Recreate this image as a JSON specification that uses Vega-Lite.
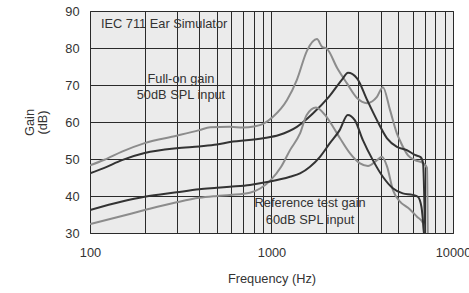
{
  "$schema": "https://vega.github.io/schema/vega-lite/v6.json",
  "autosize": "none",
  "width": 363,
  "height": 222,
  "padding": {"left": 90, "top": 11, "right": 16, "bottom": 60},
  "background": "white",
  "config": {
    "font": "Liberation Sans",
    "view": {"fill": "#ebebeb", "stroke": "#333333", "strokeWidth": 1},
    "axis": {
      "grid": true,
      "gridColor": "#2a2a2a",
      "gridOpacity": 1,
      "gridWidth": 1,
      "domain": false,
      "ticks": false,
      "labelFont": "Liberation Sans",
      "labelFontSize": 12.8,
      "labelColor": "#333333",
      "labelOverlap": false,
      "titleFont": "Liberation Sans",
      "titleFontSize": 12.8,
      "titleFontWeight": "normal",
      "titleColor": "#333333"
    }
  },
  "datasets": {
    "curves": [
      {"series": "full_light", "freq": 100, "gain": 48.3},
      {"series": "full_light", "freq": 120, "gain": 49.8},
      {"series": "full_light", "freq": 150, "gain": 52.0},
      {"series": "full_light", "freq": 200, "gain": 54.3},
      {"series": "full_light", "freq": 300, "gain": 56.3},
      {"series": "full_light", "freq": 400, "gain": 57.8},
      {"series": "full_light", "freq": 460, "gain": 58.6},
      {"series": "full_light", "freq": 590, "gain": 58.7},
      {"series": "full_light", "freq": 700, "gain": 58.5},
      {"series": "full_light", "freq": 800, "gain": 58.8},
      {"series": "full_light", "freq": 900, "gain": 59.5},
      {"series": "full_light", "freq": 1020, "gain": 61.4},
      {"series": "full_light", "freq": 1220, "gain": 66.0},
      {"series": "full_light", "freq": 1380, "gain": 71.4},
      {"series": "full_light", "freq": 1570, "gain": 79.3},
      {"series": "full_light", "freq": 1780, "gain": 82.4},
      {"series": "full_light", "freq": 1900, "gain": 80.3},
      {"series": "full_light", "freq": 2020, "gain": 79.8},
      {"series": "full_light", "freq": 2300, "gain": 74.6},
      {"series": "full_light", "freq": 2600, "gain": 70.5},
      {"series": "full_light", "freq": 2960, "gain": 66.5},
      {"series": "full_light", "freq": 3360, "gain": 65.1},
      {"series": "full_light", "freq": 3810, "gain": 66.8},
      {"series": "full_light", "freq": 4110, "gain": 69.4},
      {"series": "full_light", "freq": 4500, "gain": 63.2},
      {"series": "full_light", "freq": 4900, "gain": 57.0},
      {"series": "full_light", "freq": 5100, "gain": 55.0},
      {"series": "full_light", "freq": 5650, "gain": 51.0},
      {"series": "full_light", "freq": 6170, "gain": 49.7},
      {"series": "full_light", "freq": 6840, "gain": 48.9},
      {"series": "full_light", "freq": 7190, "gain": 47.6},
      {"series": "full_light", "freq": 7260, "gain": 30.0},

      {"series": "full_dark", "freq": 100, "gain": 46.1},
      {"series": "full_dark", "freq": 120, "gain": 47.6},
      {"series": "full_dark", "freq": 150, "gain": 49.7},
      {"series": "full_dark", "freq": 200, "gain": 51.6},
      {"series": "full_dark", "freq": 300, "gain": 52.9},
      {"series": "full_dark", "freq": 400, "gain": 53.4},
      {"series": "full_dark", "freq": 500, "gain": 53.9},
      {"series": "full_dark", "freq": 590, "gain": 54.6},
      {"series": "full_dark", "freq": 900, "gain": 55.6},
      {"series": "full_dark", "freq": 1100, "gain": 56.5},
      {"series": "full_dark", "freq": 1380, "gain": 58.7},
      {"series": "full_dark", "freq": 1690, "gain": 62.3},
      {"series": "full_dark", "freq": 2070, "gain": 66.8},
      {"series": "full_dark", "freq": 2440, "gain": 71.4},
      {"series": "full_dark", "freq": 2640, "gain": 73.3},
      {"series": "full_dark", "freq": 2960, "gain": 71.8},
      {"series": "full_dark", "freq": 3360, "gain": 66.0},
      {"series": "full_dark", "freq": 3810, "gain": 60.5},
      {"series": "full_dark", "freq": 4330, "gain": 55.6},
      {"series": "full_dark", "freq": 4910, "gain": 53.3},
      {"series": "full_dark", "freq": 5570, "gain": 52.4},
      {"series": "full_dark", "freq": 6170, "gain": 51.1},
      {"series": "full_dark", "freq": 6630, "gain": 50.5},
      {"series": "full_dark", "freq": 6840, "gain": 48.9},
      {"series": "full_dark", "freq": 7010, "gain": 30.0},

      {"series": "ref_light", "freq": 100, "gain": 32.4},
      {"series": "ref_light", "freq": 150, "gain": 34.6},
      {"series": "ref_light", "freq": 200, "gain": 36.2},
      {"series": "ref_light", "freq": 300, "gain": 38.3},
      {"series": "ref_light", "freq": 400, "gain": 39.5},
      {"series": "ref_light", "freq": 500, "gain": 40.0},
      {"series": "ref_light", "freq": 590, "gain": 40.3},
      {"series": "ref_light", "freq": 760, "gain": 40.9},
      {"series": "ref_light", "freq": 870, "gain": 42.1},
      {"series": "ref_light", "freq": 990, "gain": 44.3},
      {"series": "ref_light", "freq": 1130, "gain": 47.9},
      {"series": "ref_light", "freq": 1265, "gain": 52.4},
      {"series": "ref_light", "freq": 1436, "gain": 56.9},
      {"series": "ref_light", "freq": 1563, "gain": 61.9},
      {"series": "ref_light", "freq": 1759, "gain": 63.9},
      {"series": "ref_light", "freq": 1972, "gain": 61.9},
      {"series": "ref_light", "freq": 2182, "gain": 58.7},
      {"series": "ref_light", "freq": 2385, "gain": 55.6},
      {"series": "ref_light", "freq": 2708, "gain": 51.5},
      {"series": "ref_light", "freq": 3074, "gain": 48.8},
      {"series": "ref_light", "freq": 3401, "gain": 48.1},
      {"series": "ref_light", "freq": 3813, "gain": 49.7},
      {"series": "ref_light", "freq": 4063, "gain": 50.6},
      {"series": "ref_light", "freq": 4329, "gain": 48.0},
      {"series": "ref_light", "freq": 4669, "gain": 41.6},
      {"series": "ref_light", "freq": 5105, "gain": 38.5},
      {"series": "ref_light", "freq": 5652, "gain": 36.8},
      {"series": "ref_light", "freq": 6336, "gain": 34.4},
      {"series": "ref_light", "freq": 6836, "gain": 32.7},
      {"series": "ref_light", "freq": 6919, "gain": 30.0},

      {"series": "ref_dark", "freq": 100, "gain": 36.2},
      {"series": "ref_dark", "freq": 150, "gain": 38.5},
      {"series": "ref_dark", "freq": 200, "gain": 39.8},
      {"series": "ref_dark", "freq": 300, "gain": 41.0},
      {"series": "ref_dark", "freq": 400, "gain": 41.8},
      {"series": "ref_dark", "freq": 500, "gain": 42.2},
      {"series": "ref_dark", "freq": 590, "gain": 42.5},
      {"series": "ref_dark", "freq": 761, "gain": 43.0},
      {"series": "ref_dark", "freq": 981, "gain": 43.9},
      {"series": "ref_dark", "freq": 1265, "gain": 45.2},
      {"series": "ref_dark", "freq": 1436, "gain": 46.1},
      {"series": "ref_dark", "freq": 1630, "gain": 47.9},
      {"series": "ref_dark", "freq": 1850, "gain": 50.6},
      {"series": "ref_dark", "freq": 2092, "gain": 54.2},
      {"series": "ref_dark", "freq": 2375, "gain": 57.8},
      {"series": "ref_dark", "freq": 2631, "gain": 61.9},
      {"series": "ref_dark", "freq": 2877, "gain": 60.5},
      {"series": "ref_dark", "freq": 3188, "gain": 55.1},
      {"series": "ref_dark", "freq": 3617, "gain": 49.7},
      {"series": "ref_dark", "freq": 4106, "gain": 45.2},
      {"series": "ref_dark", "freq": 4660, "gain": 42.1},
      {"series": "ref_dark", "freq": 5290, "gain": 40.7},
      {"series": "ref_dark", "freq": 6000, "gain": 40.3},
      {"series": "ref_dark", "freq": 6400, "gain": 39.8},
      {"series": "ref_dark", "freq": 6700, "gain": 37.1},
      {"series": "ref_dark", "freq": 6920, "gain": 30.0}
    ],
    "notes": [
      {"freq": 256, "gain": 86.5, "text": "IEC 711 Ear Simulator"},
      {"freq": 317, "gain": 71.6, "text": "Full-on gain"},
      {"freq": 317, "gain": 67.3, "text": "50dB SPL input"},
      {"freq": 1632, "gain": 38.1, "text": "Reference test gain"},
      {"freq": 1632, "gain": 33.5, "text": "60dB SPL input"}
    ]
  },
  "encoding": {
    "x": {
      "field": "freq",
      "type": "quantitative",
      "scale": {"type": "log", "domain": [100, 10000], "nice": false},
      "axis": {
        "title": "Frequency (Hz)",
        "values": [100, 200, 300, 400, 500, 600, 700, 800, 900, 1000, 2000, 3000, 4000, 5000, 6000, 7000, 8000, 9000, 10000],
        "format": "d",
        "labelExpr": "(datum.value == 100 || datum.value == 1000 || datum.value == 10000) ? datum.label : ''",
        "labelPadding": 13,
        "labelFlush": false,
        "titlePadding": 14
      }
    },
    "y": {
      "field": "gain",
      "type": "quantitative",
      "scale": {"domain": [30, 90], "nice": false, "zero": false},
      "axis": {
        "title": ["Gain", "(dB)"],
        "values": [30, 40, 50, 60, 70, 80, 90],
        "labelOverlap": false,
        "labelPadding": 11,
        "titlePadding": 15,
        "titleLineHeight": 13
      }
    }
  },
  "layer": [
    {
      "data": {"name": "curves"},
      "mark": {"type": "line", "interpolate": "monotone", "strokeWidth": 2, "clip": true},
      "encoding": {
        "color": {
          "field": "series",
          "type": "nominal",
          "scale": {"domain": ["full_light", "full_dark", "ref_light", "ref_dark"], "range": ["#8c8c8c", "#333333", "#8c8c8c", "#333333"]},
          "legend": null
        }
      }
    },
    {
      "data": {"name": "notes"},
      "mark": {"type": "text", "font": "Liberation Sans", "fontSize": 12.8, "color": "#333333", "align": "center", "baseline": "middle"},
      "encoding": {
        "text": {"field": "text"}
      }
    }
  ]
}
